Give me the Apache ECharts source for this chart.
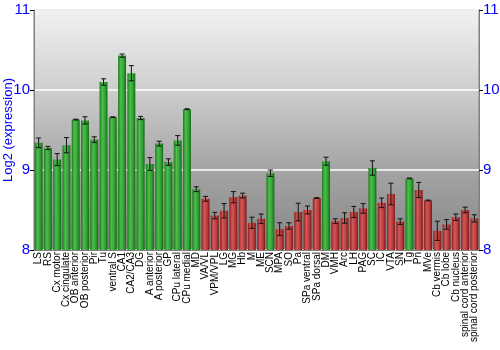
<!DOCTYPE html>
<html>
<head>
<meta charset="utf-8">
<script src="https://cdn.jsdelivr.net/npm/echarts@6/dist/echarts.min.js"></script>
<style>html,body{margin:0;padding:0;background:#fff}#c{width:500px;height:350px}</style>
</head>
<body>
<div id="c"></div>
<script>
const categories = ["LS","RS","Cx motor","Cx cingulate","OB anterior","OB posterior","Pir","Tu","ventral S","CA1","CA2/CA3","DG","A anterior","A posterior","GP","CPu lateral","CPu medial","MD","VA/VL","VPM/VPL","LG","MG","Hb","M","ME","SCN","MPA","SO","Pa","SPa ventral","SPa dorsal","DM","VMH","Arc","LH","PAG","SC","IC","VTA","SN","Tg","Pn","MVe","Cb vermis","Cb lobe","Cb nucleus","spinal cord anterior","spinal cord posterior"];
const values = [9.34,9.275,9.13,9.31,9.63,9.62,9.38,10.10,9.66,10.43,10.21,9.65,9.075,9.33,9.10,9.37,9.76,8.76,8.64,8.43,8.49,8.66,8.68,8.34,8.39,8.96,8.26,8.30,8.475,8.50,8.65,9.11,8.36,8.40,8.475,8.52,9.025,8.59,8.70,8.355,8.895,8.75,8.62,8.24,8.32,8.41,8.50,8.395];
const errors = [0.06,0.02,0.075,0.095,0.005,0.045,0.035,0.04,0.005,0.02,0.095,0.02,0.08,0.03,0.04,0.06,0.005,0.03,0.03,0.04,0.09,0.07,0.03,0.07,0.06,0.04,0.08,0.04,0.11,0.05,0.005,0.05,0.03,0.065,0.07,0.06,0.09,0.06,0.135,0.035,0.005,0.095,0.005,0.12,0.06,0.04,0.035,0.045];
const enriched = ["LS","RS","Cx motor","Cx cingulate","OB anterior","OB posterior","Pir","Tu","ventral S","CA1","CA2/CA3","DG","A anterior","A posterior","GP","CPu lateral","CPu medial","MD","SCN","DM","SC","Tg"];
const yTicks = [8, 9, 10, 11];

const FONT = "Liberation Sans, Arial, sans-serif";
function grad(stops) {
  return new echarts.graphic.LinearGradient(0, 0, 1, 0, stops.map((c, i) => ({offset: [0,0.35,0.7,1][i], color: c})));
}
const greenGrad = grad(['#1d7a1d','#4cbf4c','#33a033','#176817']);
const redGrad = grad(['#8a2020','#d45858','#bb3d3d','#761818']);

const barData = values.map((v, i) => ({
  value: v,
  itemStyle: {color: enriched.includes(categories[i]) ? greenGrad : redGrad}
}));
const errData = values.map((v, i) => [i, v - errors[i], v + errors[i]]);

const chart = echarts.init(document.getElementById('c'), null, {renderer: 'canvas'});
const yCommon = {
  type: 'value', min: yTicks[0], max: yTicks[yTicks.length - 1], interval: 1,
  axisLine: {show: true, lineStyle: {color: '#808080', width: 1}},
  axisTick: {show: true, length: 4, lineStyle: {color: '#000'}},
  axisLabel: {color: '#0000ff', fontSize: 15, fontFamily: FONT, margin: 4},
};
chart.setOption({
  animation: false,
  grid: {
    left: 34, right: 21, top: 10, bottom: 100, show: true,
    containLabel: false, outerBoundsMode: 'none',
    borderColor: '#808080', borderWidth: 1,
    backgroundColor: new echarts.graphic.LinearGradient(0, 0, 0, 1, [
      {offset: 0, color: '#f2f2f2'},
      {offset: 0.3, color: '#d2d2d2'},
      {offset: 0.65, color: '#a6a6a6'},
      {offset: 1, color: '#858585'}
    ])
  },
  xAxis: {
    type: 'category', data: categories,
    axisLine: {show: true, lineStyle: {color: '#808080'}},
    axisTick: {show: false},
    axisLabel: {rotate: 90, interval: 0, fontSize: 10, color: '#000', fontFamily: FONT, margin: 2}
  },
  yAxis: [
    Object.assign({}, yCommon, {
      position: 'left',
      name: 'Log2 (expression)', nameLocation: 'middle', nameGap: 19, nameMoveOverlap: false,
      nameTextStyle: {color: '#0000ff', fontSize: 13, fontFamily: FONT},
      splitLine: {show: true, lineStyle: {color: '#ffffff', width: 1.5}}
    }),
    Object.assign({}, yCommon, {position: 'right', splitLine: {show: false}})
  ],
  series: [
    {
      type: 'bar', data: barData, barCategoryGap: '14%', yAxisIndex: 0
    },
    {
      type: 'custom', yAxisIndex: 0, data: errData, z: 5,
      renderItem: function (params, api) {
        const x = api.value(0);
        const lo = api.coord([x, api.value(1)]);
        const hi = api.coord([x, api.value(2)]);
        const cw = 2.5;
        const st = {stroke: '#111', lineWidth: 1};
        return {type: 'group', children: [
          {type: 'line', shape: {x1: lo[0], y1: lo[1], x2: hi[0], y2: hi[1]}, style: st},
          {type: 'line', shape: {x1: lo[0]-cw, y1: lo[1], x2: lo[0]+cw, y2: lo[1]}, style: st},
          {type: 'line', shape: {x1: hi[0]-cw, y1: hi[1], x2: hi[0]+cw, y2: hi[1]}, style: st}
        ]};
      }
    }
  ]
});
</script>
</body>
</html>
